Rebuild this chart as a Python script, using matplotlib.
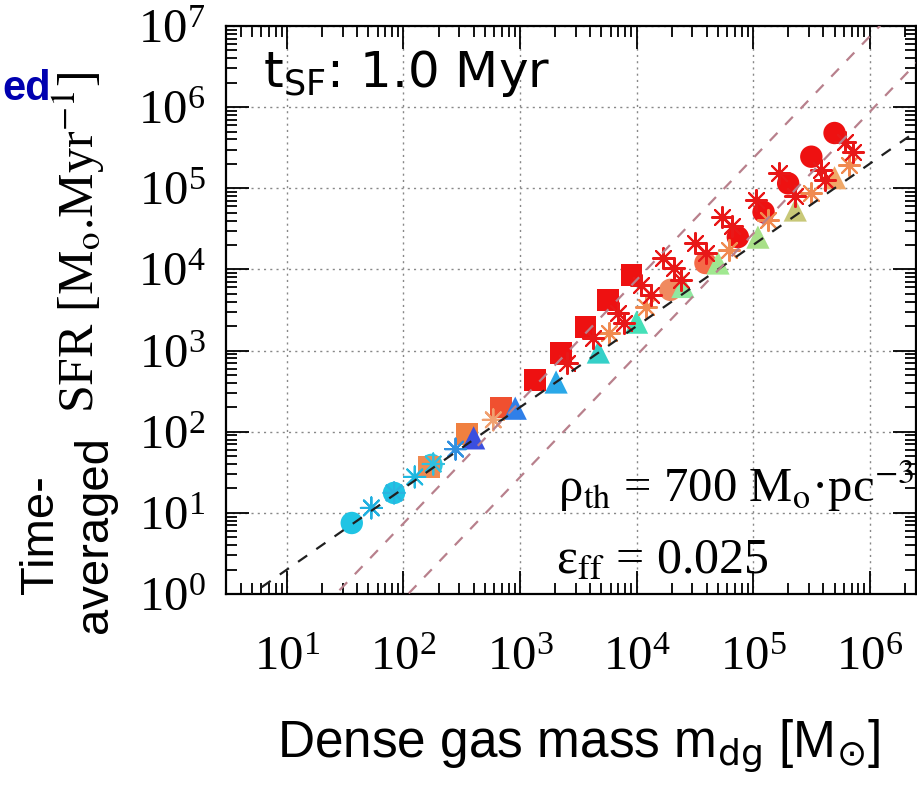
import numpy as np
import matplotlib.pyplot as plt
from matplotlib.ticker import FixedLocator, NullFormatter

plt.rcParams['mathtext.fontset'] = 'stix'

# ---- data ----
# circles
circ_m = [36, 83, 174, 1.95e4, 3.9e4, 7.4e4, 1.23e5, 2.0e5, 3.16e5, 5.0e5]
circ_sfr = [7.5, 17.6, 39, 5.6e3, 1.2e4, 2.5e4, 5.1e4, 1.15e5, 2.45e5, 4.8e5]
circ_col = ['#20c4e4', '#20c4e4', '#30c8e0', '#f08a60', '#f46a48',
            '#ee1111', '#ee1111', '#ee1111', '#ee1111', '#ee1111']

# squares
sq_m = [165, 350, 690, 1350, 2240, 3640, 5700, 9040]
sq_sfr = [37, 94, 200, 437, 935, 1960, 4200, 8550]
sq_col = ['#f08a50', '#f08040', '#f05030', '#ee1111', '#ee1111',
          '#ee1111', '#ee1111', '#ee1111']

# triangles
tri_m = [400, 910, 2040, 4700, 1.0e4, 2.5e4, 5.0e4, 1.1e5, 2.3e5, 5.0e5]
tri_sfr = [84, 195, 410, 960, 2240, 6170, 1.2e4, 2.5e4, 5.4e4, 1.35e5]
tri_col = ['#3a4fe0', '#2f7fe8', '#2aa8e8', '#35d0c8', '#45e0b8',
           '#8fe8a0', '#a0e890', '#a8e088', '#c8c878', '#f0a868']

# asterisks, low mass
ast_lo_m = [53, 83, 125, 180, 280, 590]
ast_lo_sfr = [11.5, 17.6, 27.7, 40, 61, 140]
ast_lo_col = ['#20b0e0', '#2ab4e0', '#20b8e0', '#30c0e0', '#3090e0', '#f0a070']

# asterisks, red
ast_red_m = [2510, 4270, 7000, 7760, 1.10e4, 1.32e4, 1.70e4, 2.09e4, 2.40e4,
             3.16e4, 3.98e4, 5.37e4, 6.61e4, 1.05e5, 1.66e5, 2.29e5,
             3.80e5, 4.17e5, 6.17e5, 7.24e5]
ast_red_sfr = [708, 1445, 2880, 2190, 6460, 4900, 1.38e4, 1.05e4, 7400,
               2.14e4, 1.58e4, 4.47e4, 3.39e4, 7.24e4, 1.55e5, 7.94e4,
               1.70e5, 1.26e5, 3.72e5, 2.82e5]

# asterisks, orange
ast_or_m = [5750, 1.20e4, 6.17e4, 1.35e5, 3.16e5, 6.61e5]
ast_or_sfr = [1660, 3470, 1.74e4, 4.07e4, 8.71e4, 1.95e5]

# model lines: SFR = k * m**p
line_k = [0.2, 10**-2.13, 10**-3.06]
line_p = [1.0, 1.5, 1.5]
line_col = ['#202020', '#b8808c', '#b8808c']

x_major = [1e1, 1e2, 1e3, 1e4, 1e5, 1e6]
y_major = [1e0, 1e1, 1e2, 1e3, 1e4, 1e5, 1e6, 1e7]

W, H = 917, 785
fig = plt.figure(figsize=(W / 100, H / 100), dpi=100)
ax = fig.add_axes([226 / W, 1 - 594 / H, (916 - 226) / W, (594 - 26) / H])

ax.set_xscale('log')
ax.set_yscale('log')
ax.set_xlim(3, 2.5e6)
ax.set_ylim(1, 1e7)
ax.set_xticks(x_major)
ax.set_yticks(y_major)
minor = [s * 10.0**e for e in range(0, 7) for s in range(2, 10)]
ax.xaxis.set_minor_locator(FixedLocator(minor))
ax.yaxis.set_minor_locator(FixedLocator(minor))
ax.xaxis.set_minor_formatter(NullFormatter())
ax.yaxis.set_minor_formatter(NullFormatter())

ax.scatter(circ_m, circ_sfr, s=260, c=circ_col, marker='o', linewidths=0, zorder=3)
ax.scatter(sq_m, sq_sfr, s=240, c=sq_col, marker='s', linewidths=0, zorder=3)
ax.scatter(tri_m, tri_sfr, s=280, c=tri_col, marker='^', linewidths=0, zorder=3)
ax.scatter(ast_lo_m, ast_lo_sfr, s=230, c=ast_lo_col, marker=(8, 2, 0), linewidths=1.5, zorder=4)
ax.scatter(ast_or_m, ast_or_sfr, s=230, c='#f08a50', marker=(8, 2, 0), linewidths=1.5, zorder=4)
ax.scatter(ast_red_m, ast_red_sfr, s=230, c='#e81818', marker=(8, 2, 0), linewidths=1.5, zorder=4)

mline = np.array([1, 1e7])
for k, p, col in zip(line_k, line_p, line_col):
    ax.plot(mline, k * mline**p, color=col, lw=1.6, dashes=(5, 5), zorder=5)

ax.grid(True, which='major', color='#888888', ls=(0, (1.5, 3)), lw=1)
ax.tick_params(which='both', direction='in', top=True, right=True, width=1.3)
ax.tick_params(which='major', length=16.5, labelsize=35,
               labelfontfamily='Liberation Serif')
ax.tick_params(which='minor', length=8)
ax.tick_params(axis='x', which='major', pad=30)
ax.tick_params(axis='y', which='major', pad=15)
for sp in ax.spines.values():
    sp.set_linewidth(1.6)

fig.text(263 / W, 1 - 87 / H, r't$_{\mathrm{SF}}$: 1.0 Myr',
         fontsize=36, family='DejaVu Sans', math_fontfamily='dejavusans', va='baseline')
fig.text(558 / W, 1 - 502 / H, r'ρ$_{\mathrm{th}}$ = 700 M$_{\mathrm{o}}$·pc$^{-3}$',
         fontsize=35, family=['Liberation Serif', 'DejaVu Sans'], va='baseline')
fig.text(556 / W, 1 - 573 / H, r'ε$_{\mathrm{ff}}$ = 0.025',
         fontsize=36, family=['Liberation Serif', 'DejaVu Sans'], va='baseline')

fig.text(79 / W, 1 - 243 / H, r'SFR [M$_{\mathrm{o}}$.Myr$^{-1}$]', rotation=90,
         fontsize=36, family='Liberation Serif', ha='center', va='center')
fig.text(68 / W, 1 - 535 / H, 'Time-\naveraged', rotation=90, fontsize=34,
         family='Liberation Sans', ha='center', va='center', multialignment='center',
         linespacing=1.3)
fig.text(2 / W, 1 - 100 / H, 'ed', fontsize=30, family='Liberation Sans',
         weight='bold', color='#0000b0', ha='left', va='baseline')
fig.text(579 / W, 1 - 757 / H, r'Dense gas mass m$_{\mathrm{dg}}$ [M$_{\odot}$]',
         fontsize=37, family='Liberation Sans', math_fontfamily='dejavusans',
         ha='center', va='baseline')

fig.savefig('out.png', dpi=100)
